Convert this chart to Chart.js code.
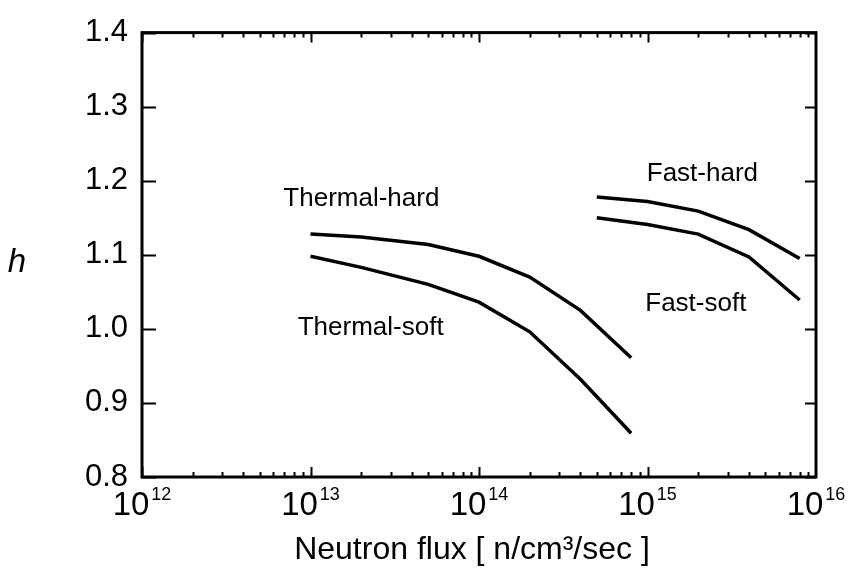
<!DOCTYPE html>
<html>
<head>
<meta charset="utf-8">
<script src="https://cdn.jsdelivr.net/npm/chart.js@4/dist/chart.umd.min.js"></script>
<style>
  html, body { margin: 0; padding: 0; background: #fff; }
  #wrap { width: 850px; height: 568px; }
</style>
</head>
<body>
<div id="wrap"><canvas id="c" width="850" height="568"></canvas></div>
<script>
// ---- data ----
const thermalFlux = [1e13, 2e13, 5e13, 1e14, 2e14, 4e14, 8e14];
const thermalHard = [1.128, 1.124, 1.114, 1.098, 1.070, 1.025, 0.961];
const thermalSoft = [1.098, 1.083, 1.060, 1.036, 0.996, 0.932, 0.859];
const fastFlux = [5e14, 1e15, 2e15, 4e15, 8e15];
const fastHard = [1.178, 1.172, 1.159, 1.134, 1.095];
const fastSoft = [1.150, 1.141, 1.128, 1.097, 1.039];

const xTickExponents = [12, 13, 14, 15, 16];
const yTicks = [0.8, 0.9, 1.0, 1.1, 1.2, 1.3, 1.4];
const curveLabels = ['Thermal-hard', 'Thermal-soft', 'Fast-hard', 'Fast-soft'];
const curveLabelX = [6.9e12, 8.4e12, 9.9e14, 9.7e14];
const curveLabelY = [1.166, 0.992, 1.1995, 1.0243];
const xTitle = 'Neutron flux [ n/cm\u00B3/sec ]';
const yTitle = 'h';

const FONT = '"Liberation Sans", Arial, Helvetica, sans-serif';

function pts(xs, ys) { return xs.map((x, i) => ({ x: x, y: ys[i] })); }

const lineStyle = { borderColor: '#000', borderWidth: 3.5, pointRadius: 0, fill: false, tension: 0 };

const decor = {
  id: 'decor',
  afterDraw(chart) {
    const ctx = chart.ctx;
    const a = chart.chartArea;
    const xs = chart.scales.x, ys = chart.scales.y;
    ctx.save();
    ctx.strokeStyle = '#000';
    ctx.fillStyle = '#000';
    // frame
    ctx.lineWidth = 3;
    ctx.strokeRect(a.left, a.top, a.right - a.left, a.bottom - a.top);
    // x ticks (inside, bottom & top)
    ctx.lineWidth = 2;
    const e0 = xTickExponents[0], e1 = xTickExponents[xTickExponents.length - 1];
    for (let e = e0; e < e1; e++) {
      for (let m = 1; m <= 9; m++) {
        const v = m * Math.pow(10, e);
        const px = Math.round(xs.getPixelForValue(v)) + 0.5;
        const len = m === 1 ? 10 : 5;
        ctx.beginPath();
        ctx.moveTo(px, a.bottom); ctx.lineTo(px, a.bottom - len);
        ctx.moveTo(px, a.top); ctx.lineTo(px, a.top + len);
        ctx.stroke();
      }
    }
    // y ticks (inside, left & right)
    yTicks.forEach(v => {
      const py = Math.round(ys.getPixelForValue(v)) + 0.5;
      ctx.beginPath();
      ctx.moveTo(a.left, py); ctx.lineTo(a.left + 14, py);
      ctx.moveTo(a.right, py); ctx.lineTo(a.right - 11, py);
      ctx.stroke();
    });
    // x tick labels 10^n
    ctx.textBaseline = 'alphabetic';
    xTickExponents.forEach(e => {
      const px = xs.getPixelForValue(Math.pow(10, e));
      ctx.font = '33px ' + FONT;
      const wBase = ctx.measureText('10').width;
      ctx.font = '18px ' + FONT;
      const wExp = ctx.measureText(String(e)).width;
      const gap = 2;
      const start = px - (wBase + wExp + gap) / 2;
      ctx.textAlign = 'left';
      ctx.font = '33px ' + FONT;
      ctx.fillText('10', start, a.bottom + 38);
      ctx.font = '18px ' + FONT;
      ctx.fillText(String(e), start + wBase + gap, a.bottom + 23);
    });
    // x title
    ctx.font = '32px ' + FONT;
    ctx.textAlign = 'center';
    ctx.fillText(xTitle, (a.left + a.right) / 2 - 7, a.bottom + 82);
    // y title
    ctx.font = 'italic 33px ' + FONT;
    ctx.textAlign = 'center';
    ctx.fillText(yTitle, 17, 272);
    // curve labels
    ctx.font = '26px ' + FONT;
    ctx.textAlign = 'left';
    curveLabels.forEach((t, i) => {
      ctx.fillText(t, xs.getPixelForValue(curveLabelX[i]), ys.getPixelForValue(curveLabelY[i]));
    });
    ctx.restore();
  }
};

new Chart(document.getElementById('c'), {
  type: 'line',
  data: {
    datasets: [
      Object.assign({ label: curveLabels[0], data: pts(thermalFlux, thermalHard) }, lineStyle),
      Object.assign({ label: curveLabels[1], data: pts(thermalFlux, thermalSoft) }, lineStyle),
      Object.assign({ label: curveLabels[2], data: pts(fastFlux, fastHard) }, lineStyle),
      Object.assign({ label: curveLabels[3], data: pts(fastFlux, fastSoft) }, lineStyle)
    ]
  },
  options: {
    responsive: false,
    animation: false,
    devicePixelRatio: 1,
    layout: { padding: { top: 27, right: 34, left: 0, bottom: 0 } },
    plugins: { legend: { display: false }, tooltip: { enabled: false } },
    scales: {
      x: {
        type: 'logarithmic',
        min: Math.pow(10, xTickExponents[0]),
        max: Math.pow(10, xTickExponents[xTickExponents.length - 1]),
        grid: { display: false },
        border: { display: false },
        ticks: { display: false },
        afterFit(s) { s.height = 91; }
      },
      y: {
        type: 'linear',
        min: yTicks[0],
        max: yTicks[yTicks.length - 1],
        grid: { display: false, drawTicks: false },
        border: { display: false },
        ticks: {
          stepSize: 0.1,
          padding: 14,
          color: '#000',
          font: { family: FONT, size: 31 },
          callback: v => Number(v).toFixed(1)
        },
        afterFit(s) { s.width = 142; }
      }
    }
  },
  plugins: [decor]
});
</script>
</body>
</html>
